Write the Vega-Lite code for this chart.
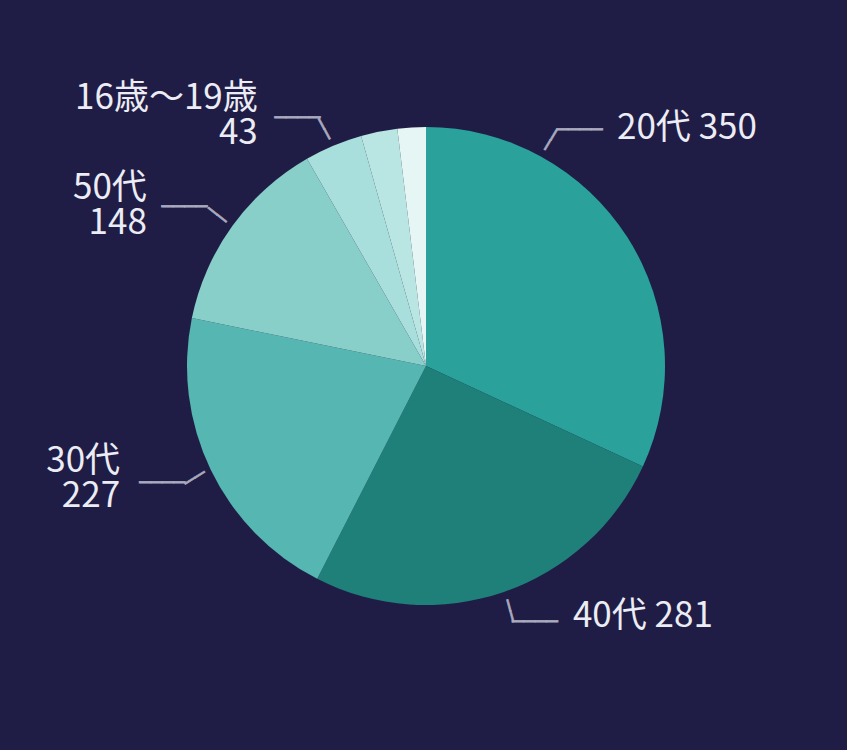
{
  "$schema": "https://vega.github.io/schema/vega-lite/v6.json",
  "autosize": {"type": "fit", "contains": "padding"},
  "width": 847,
  "height": 750,
  "padding": {"left": 5, "right": 0, "top": 0, "bottom": 18},
  "background": "#1f1d45",
  "config": {"view": {"stroke": null}},
  "data": {
    "values": [
      {"age": "20代", "count": 350, "label": "20代 350"},
      {"age": "40代", "count": 281, "label": "40代 281"},
      {"age": "30代", "count": 227, "label": "30代\n227"},
      {"age": "50代", "count": 148, "label": "50代\n148"},
      {"age": "16歳〜19歳", "count": 43, "label": "16歳〜19歳\n43"},
      {"age": "60代", "count": 27, "label": ""},
      {"age": "70代以上", "count": 21, "label": ""}
    ]
  },
  "transform": [{"window": [{"op": "row_number", "as": "idx"}]}],
  "encoding": {
    "theta": {"field": "count", "type": "quantitative", "stack": true},
    "order": {"field": "idx", "type": "quantitative", "sort": "ascending"}
  },
  "layer": [
    {
      "mark": {"type": "arc", "outerRadius": 239},
      "encoding": {
        "color": {
          "field": "age",
          "type": "nominal",
          "scale": {
            "domain": ["20代", "40代", "30代", "50代", "16歳〜19歳", "60代", "70代以上"],
            "range": ["#2aa29b", "#1f807a", "#56b7b2", "#88cec9", "#a8dedb", "#b9e6e2", "#e6f6f4"]
          },
          "legend": null
        }
      }
    },
    {
      "mark": {"type": "text", "radius": 250, "font": "Noto Sans CJK JP", "fontSize": 35, "fill": "#ececf4", "baseline": "middle", "align": "left", "dx": -19.7, "dy": -103.4, "lineBreak": "\n", "lineHeight": 35},
      "encoding": {"text": {"condition": {"test": "datum.age === '20代'", "field": "label"}, "value": ""}}
    },
    {
      "mark": {"type": "text", "radius": 250, "font": "Noto Sans CJK JP", "fontSize": 35, "fill": "#ececf4", "baseline": "middle", "align": "left", "dx": 65.4, "dy": 13.5, "lineBreak": "\n", "lineHeight": 35},
      "encoding": {"text": {"condition": {"test": "datum.age === '40代'", "field": "label"}, "value": ""}}
    },
    {
      "mark": {"type": "text", "radius": 250, "font": "Noto Sans CJK JP", "fontSize": 35, "fill": "#ececf4", "baseline": "middle", "align": "right", "dx": -80.6, "dy": -13.2, "lineBreak": "\n", "lineHeight": 35},
      "encoding": {"text": {"condition": {"test": "datum.age === '30代'", "field": "label"}, "value": ""}}
    },
    {
      "mark": {"type": "text", "radius": 250, "font": "Noto Sans CJK JP", "fontSize": 35, "fill": "#ececf4", "baseline": "middle", "align": "right", "dx": -76.5, "dy": -31.4, "lineBreak": "\n", "lineHeight": 35},
      "encoding": {"text": {"condition": {"test": "datum.age === '50代'", "field": "label"}, "value": ""}}
    },
    {
      "mark": {"type": "text", "radius": 250, "font": "Noto Sans CJK JP", "fontSize": 35, "fill": "#ececf4", "baseline": "middle", "align": "right", "dx": -71.3, "dy": -37.2, "lineBreak": "\n", "lineHeight": 35},
      "encoding": {"text": {"condition": {"test": "datum.age === '16歳〜19歳'", "field": "label"}, "value": ""}}
    },
    {
      "mark": {"type": "text", "radius": 250, "font": "DejaVu Sans Mono", "fontSize": 19, "fill": "#aaaabf", "stroke": "#aaaabf", "strokeWidth": 0.7, "baseline": "middle", "align": "center", "dx": -57.2, "dy": -101.4},
      "encoding": {"text": {"condition": {"test": "datum.age === '20代'", "value": "────"}, "value": ""}}
    },
    {
      "mark": {"type": "text", "radius": 250, "font": "DejaVu Sans Mono", "fontSize": 19, "fill": "#aaaabf", "stroke": "#aaaabf", "strokeWidth": 0.7, "baseline": "middle", "align": "center", "dx": 27.4, "dy": 19.7},
      "encoding": {"text": {"condition": {"test": "datum.age === '40代'", "value": "────"}, "value": ""}}
    },
    {
      "mark": {"type": "text", "radius": 250, "font": "DejaVu Sans Mono", "fontSize": 19, "fill": "#aaaabf", "stroke": "#aaaabf", "strokeWidth": 0.7, "baseline": "middle", "align": "center", "dx": -38.6, "dy": 8.8},
      "encoding": {"text": {"condition": {"test": "datum.age === '30代'", "value": "────"}, "value": ""}}
    },
    {
      "mark": {"type": "text", "radius": 250, "font": "DejaVu Sans Mono", "fontSize": 19, "fill": "#aaaabf", "stroke": "#aaaabf", "strokeWidth": 0.7, "baseline": "middle", "align": "center", "dx": -39, "dy": -12.4},
      "encoding": {"text": {"condition": {"test": "datum.age === '50代'", "value": "────"}, "value": ""}}
    },
    {
      "mark": {"type": "text", "radius": 250, "font": "DejaVu Sans Mono", "fontSize": 19, "fill": "#aaaabf", "stroke": "#aaaabf", "strokeWidth": 0.7, "baseline": "middle", "align": "center", "dx": -31.8, "dy": -17.4},
      "encoding": {"text": {"condition": {"test": "datum.age === '16歳〜19歳'", "value": "────"}, "value": ""}}
    },
    {
      "mark": {"type": "text", "radius": 250, "font": "DejaVu Sans Mono", "fontSize": 19, "fill": "#aaaabf", "stroke": "#aaaabf", "strokeWidth": 0.7, "baseline": "middle", "align": "center", "angle": -59, "dx": 34.2, "dy": -120.5},
      "encoding": {"text": {"condition": {"test": "datum.age === '20代'", "value": "──"}, "value": ""}}
    },
    {
      "mark": {"type": "text", "radius": 250, "font": "DejaVu Sans Mono", "fontSize": 19, "fill": "#aaaabf", "stroke": "#aaaabf", "strokeWidth": 0.7, "baseline": "middle", "align": "center", "angle": 74.7, "dx": 9.0, "dy": 0},
      "encoding": {"text": {"condition": {"test": "datum.age === '40代'", "value": "──"}, "value": ""}}
    },
    {
      "mark": {"type": "text", "radius": 250, "font": "DejaVu Sans Mono", "fontSize": 19, "fill": "#aaaabf", "stroke": "#aaaabf", "strokeWidth": 0.7, "baseline": "middle", "align": "center", "angle": -32, "dx": -6.8, "dy": 0.3},
      "encoding": {"text": {"condition": {"test": "datum.age === '30代'", "value": "──"}, "value": ""}}
    },
    {
      "mark": {"type": "text", "radius": 250, "font": "DejaVu Sans Mono", "fontSize": 19, "fill": "#aaaabf", "stroke": "#aaaabf", "strokeWidth": 0.7, "baseline": "middle", "align": "center", "angle": 38.7, "dx": -7.8, "dy": 0.6},
      "encoding": {"text": {"condition": {"test": "datum.age === '50代'", "value": "──"}, "value": ""}}
    },
    {
      "mark": {"type": "text", "radius": 250, "font": "DejaVu Sans Mono", "fontSize": 19, "fill": "#aaaabf", "stroke": "#aaaabf", "strokeWidth": 0.7, "baseline": "middle", "align": "center", "angle": 61.4, "dx": -8.2, "dy": 1.6},
      "encoding": {"text": {"condition": {"test": "datum.age === '16歳〜19歳'", "value": "──"}, "value": ""}}
    }
  ]
}
